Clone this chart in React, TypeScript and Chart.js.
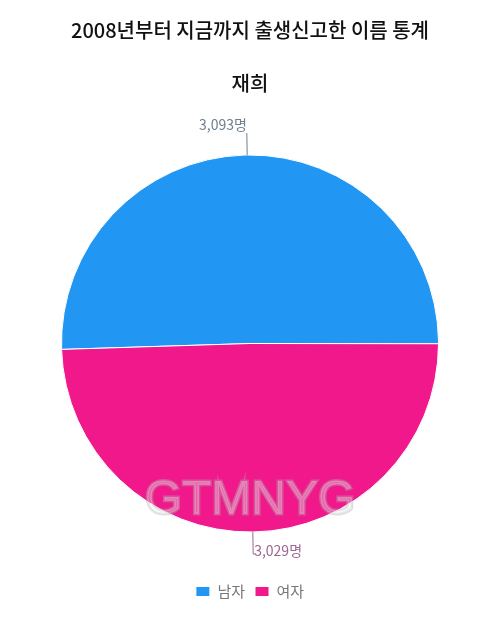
import { useEffect, useRef } from 'react';
import { Chart, ChartConfiguration, registerables } from 'chart.js';

Chart.register(...registerables);

const titleText = '2008년부터 지금까지 출생신고한 이름 통계';
const nameText = '재희';
const genders = ['남자', '여자'];
const counts = [3093, 3029];
const sliceColors = ['#2196f3', '#f0188b'];
const labelColors = ['#6e7f90', '#9c6690'];
const watermark = 'GTMNYG';

const FONT = '"Noto Sans CJK KR", "Noto Sans", sans-serif';

// value labels with a short leader line, placed outside each slice
const outsideLabels = {
  id: 'outsideLabels',
  afterDatasetsDraw(chart: Chart) {
    const ctx = chart.ctx;
    const meta = chart.getDatasetMeta(0);
    ctx.save();
    ctx.font = `14px ${FONT}`;
    meta.data.forEach((el: any, i: number) => {
      const { x, y, startAngle, endAngle, outerRadius } = el.getProps(
        ['x', 'y', 'startAngle', 'endAngle', 'outerRadius'], true
      );
      const mid = (startAngle + endAngle) / 2;
      const cos = Math.cos(mid);
      const sin = Math.sin(mid);
      const x1 = x + cos * outerRadius;
      const y1 = y + sin * outerRadius;
      const x2 = x + cos * (outerRadius + 22);
      const y2 = y + sin * (outerRadius + 22);
      const color = labelColors[i];
      ctx.strokeStyle = color;
      ctx.lineWidth = 1;
      ctx.beginPath();
      ctx.moveTo(x1, y1);
      ctx.lineTo(x2, y2);
      const text = counts[i].toLocaleString('en-US') + '명';
      ctx.fillStyle = color;
      ctx.textBaseline = 'middle';
      if (sin < 0) {
        ctx.stroke();
        ctx.textAlign = 'right';
        ctx.fillText(text, x2, y2 - 8);
      } else {
        ctx.lineTo(x2 + 3, y2);
        ctx.stroke();
        ctx.textAlign = 'left';
        ctx.fillText(text, x2 + 1, y2 - 3);
      }
    });
    ctx.restore();
  }
};

const watermarkPlugin = {
  id: 'watermark',
  afterDraw(chart: Chart) {
    const ctx = chart.ctx;
    ctx.save();
    ctx.font = `48px "Liberation Sans", Arial, sans-serif`;
    ctx.textAlign = 'center';
    ctx.textBaseline = 'middle';
    ctx.lineWidth = 3;
    ctx.strokeStyle = 'rgba(175,175,175,0.4)';
    ctx.strokeText(watermark, 250, 501);
    ctx.fillStyle = 'rgba(255,255,255,0.3)';
    ctx.fillText(watermark, 250, 501);
    ctx.restore();
  }
};

function NameChart() {
  const canvasRef = useRef<HTMLCanvasElement>(null);
  const chartRef = useRef<Chart | null>(null);

  useEffect(() => {
    if (!canvasRef.current) return;
    if (chartRef.current) chartRef.current.destroy();
    const ctx = canvasRef.current.getContext('2d');
    if (!ctx) return;

    const config: ChartConfiguration = {
      type: 'pie',
      data: {
        labels: genders,
        datasets: [{
          data: counts,
          backgroundColor: sliceColors,
          borderColor: '#ffffff',
          borderWidth: 1
        }]
      },
      options: {
        responsive: true,
        maintainAspectRatio: false,
        animation: false,
        rotation: 268.2,
        layout: { padding: { left: 61, right: 61, top: 0, bottom: 15 } },
        plugins: {
          title: {
            display: true,
            text: titleText,
            color: '#111111',
            font: { family: FONT, size: 20, weight: 500 },
            padding: { top: 18, bottom: 29 }
          },
          subtitle: {
            display: true,
            text: nameText,
            color: '#111111',
            font: { family: FONT, size: 20, weight: 500 },
            padding: { top: 0, bottom: 18 }
          },
          legend: {
            display: true,
            position: 'bottom',
            labels: {
              boxWidth: 14,
              boxHeight: 10,
              color: '#777777',
              font: { family: FONT, size: 15 },
              padding: 10
            }
          },
          tooltip: { enabled: false }
        }
      },
      plugins: [outsideLabels, watermarkPlugin]
    };

    chartRef.current = new Chart(ctx, config);
    return () => {
      if (chartRef.current) chartRef.current.destroy();
    };
  }, []);

  return (
    <div style={{ position: 'absolute', left: 0, top: 0, width: 500, height: 624, background: '#fff' }}>
      <canvas ref={canvasRef}></canvas>
    </div>
  );
}

export default function App() {
  return <NameChart />;
}
